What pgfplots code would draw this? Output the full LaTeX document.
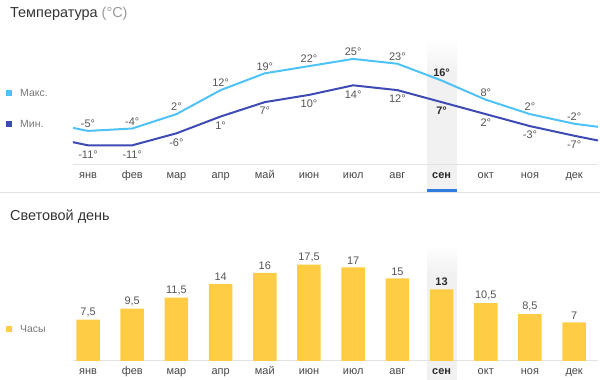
\documentclass[border=0pt]{standalone}
\usepackage{fontspec}
\setmainfont{Liberation Sans}
\usepackage{pgfplots}
\pgfplotsset{compat=1.18}
\definecolor{tmax}{HTML}{4FC3F7}
\definecolor{tmin}{HTML}{3F4BB5}
\definecolor{barc}{HTML}{FFCC44}
\definecolor{lab}{HTML}{555555}
\definecolor{labb}{HTML}{2A2A2A}
\definecolor{tick}{HTML}{474747}
\definecolor{leg}{HTML}{777777}
\definecolor{basec}{HTML}{E3E3E3}
\definecolor{sel}{HTML}{F1F1F1}
\definecolor{blu}{HTML}{2F7BE0}
\definecolor{ttl}{HTML}{333333}
\definecolor{ttl2}{HTML}{9A9A9A}
\newcommand{\lf}{\fontsize{11}{13}\selectfont}
\pgfplotsset{
  chart/.style={
    scale only axis, width=525bp, xmin=-0.34, xmax=11.54,
    axis y line=none, axis x line*=bottom,
    x axis line style={draw=basec, line width=1bp, -},
    xtick={0,...,11},
    xticklabels={янв,фев,мар,апр,май,июн,июл,авг,{\textbf{\color{labb}сен}},окт,ноя,дек},
    major tick length=0pt,
    xticklabel style={anchor=base, yshift=-13.5bp, font=\lf, text=tick, inner sep=0pt},
    clip=false,
  },
  lbl/.style={draw=none, mark=none, point meta=explicit symbolic, nodes near coords={\pgfplotspointmeta},
    every node near coord/.append style={font=\lf, text=lab, inner sep=0pt}},
}
\begin{document}
\begin{tikzpicture}
\path[use as bounding box] (0bp,0bp) rectangle (600bp,380bp);
% highlighted column (top)
\fill[sel] (427bp,190bp) rectangle (457bp,305bp);
\shade[top color=white, bottom color=sel] (427bp,305bp) rectangle (457bp,343bp);
% highlighted column (bottom)
\fill[sel] (427bp,0bp) rectangle (457bp,105bp);
\shade[top color=white, bottom color=sel] (427bp,105bp) rectangle (457bp,136bp);
% separator
\draw[basec, line width=1bp] (0bp,187.5bp) -- (600bp,187.5bp);
\fill[blu] (427bp,188bp) rectangle (457bp,190.5bp);
% titles
\node[anchor=base west, inner sep=0pt, font=\fontsize{14.5}{16}\selectfont, text=ttl] at (10bp,362.8bp) {Температура \textcolor{ttl2}{(°C)}};
\node[anchor=base west, inner sep=0pt, font=\fontsize{14.5}{16}\selectfont, text=ttl] at (10bp,159.5bp) {Световой день};
% legends
\fill[tmax] (6bp,284bp) rectangle (11.5bp,289.5bp);
\node[anchor=west, inner sep=0pt, font=\fontsize{10.5}{12}\selectfont, text=leg] at (20bp,286.6bp) {Макс.};
\fill[tmin] (6bp,253bp) rectangle (11.5bp,258.5bp);
\node[anchor=west, inner sep=0pt, font=\fontsize{10.5}{12}\selectfont, text=leg] at (20bp,255.6bp) {Мин.};
\fill[barc] (6bp,48bp) rectangle (11.5bp,53.5bp);
\node[anchor=west, inner sep=0pt, font=\fontsize{10.5}{12}\selectfont, text=leg] at (20bp,50.8bp) {Часы};

% temperature chart
\begin{axis}[chart, at={(73bp,215bp)}, anchor=south west, height=135bp, ymin=-19.2, ymax=37.05]
\addplot[tmax, line width=2bp, mark=none] coordinates {
 (-0.34,-3.75) (0,-5) (1,-4) (2,2) (3,12) (4,19) (5,22) (6,25) (7,23) (8,16) (9,8) (10,2) (11,-2) (11.54,-3.3)};
\addplot[tmin, line width=2bp, mark=none] coordinates {
 (-0.34,-9.7) (0,-11) (1,-11) (2,-6) (3,1) (4,7) (5,10) (6,14) (7,12) (8,7) (9,2) (10,-3) (11,-7) (11.54,-9.0)};
% max labels
\addplot[lbl, every node near coord/.append style={anchor=south, yshift=3bp}] coordinates {
 (0,-5)[-5°] (1,-4)[-4°] (2,2)[2°] (3,12)[12°] (4,19)[19°] (5,22)[22°] (6,25)[25°] (7,23)[23°] (9,8)[8°] (10,2)[2°] (11,-2)[-2°]};
\addplot[lbl, every node near coord/.append style={anchor=south, yshift=4bp, text=labb, font=\lf\bfseries}] coordinates {(8,16)[16°]};
% min labels
\addplot[lbl, every node near coord/.append style={anchor=north, yshift=-5bp}] coordinates {
 (0,-11)[-11°] (1,-11)[-11°] (2,-6)[-6°] (3,1)[1°] (4,7)[7°] (5,10)[10°] (6,14)[14°] (7,12)[12°] (9,2)[2°] (10,-3)[-3°] (11,-7)[-7°]};
\addplot[lbl, every node near coord/.append style={anchor=north, yshift=-5bp, text=labb, font=\lf\bfseries}] coordinates {(8,7)[7°]};
\end{axis}

% daylight chart
\begin{axis}[chart, at={(73bp,19bp)}, anchor=south west, height=116bp, ymin=0, ymax=21.09]
\addplot[ybar, bar width=23.5bp, fill=barc, draw=none] coordinates {
 (0,7.5) (1,9.5) (2,11.5) (3,14) (4,16) (5,17.5) (6,17) (7,15) (8,13) (9,10.5) (10,8.5) (11,7)};
\addplot[lbl, every node near coord/.append style={anchor=south, yshift=3bp}] table[x=x, y=y, meta=l] {
x y l
0 7.5 {7,5}
1 9.5 {9,5}
2 11.5 {11,5}
3 14 14
4 16 16
5 17.5 {17,5}
6 17 17
7 15 15
9 10.5 {10,5}
10 8.5 {8,5}
11 7 7
};
\addplot[lbl, every node near coord/.append style={anchor=south, yshift=3.5bp, text=labb, font=\lf\bfseries}] coordinates {(8,13)[13]};
\end{axis}
\end{tikzpicture}
\end{document}
